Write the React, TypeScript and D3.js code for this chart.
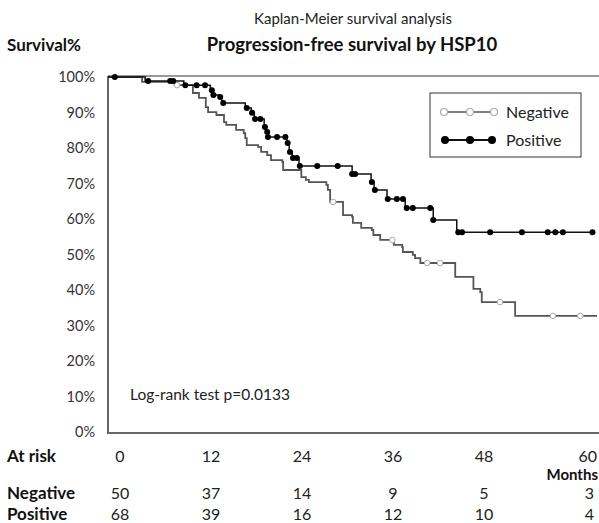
import React from "react";
import * as d3 from "d3";

// y axis ticks (percent)
const yTicks = [0, 10, 20, 30, 40, 50, 60, 70, 80, 90, 100];

// at-risk table
const riskMonths = [0, 12, 24, 36, 48, 60];
const riskNegative = [50, 37, 14, 9, 5, 3];
const riskPositive = [68, 39, 16, 12, 10, 4];

// KM steps: [month, survival % after the event]
const negSteps: [number, number][] = [
  [4.5, 98.6], [8.8, 97.7], [11.2, 95.5], [12.0, 94.1], [12.9, 91.5], [13.2, 90.1],
  [14.3, 89.3], [15.3, 87.3], [15.6, 86.5], [16.9, 85.1], [17.9, 84.2], [18.1, 82.8],
  [18.3, 80.8], [19.8, 80.3], [20.2, 78.9], [21.0, 78.0], [21.5, 76.6], [23.0, 76.1],
  [23.1, 73.8], [25.5, 71.8], [26.1, 71.0], [26.5, 70.4], [28.8, 69.6], [29.0, 68.2],
  [29.3, 64.8], [31.0, 61.1], [32.2, 60.6], [32.3, 58.9], [33.4, 57.5], [34.8, 56.9],
  [35.0, 55.5], [35.9, 54.1], [37.7, 52.7], [38.8, 52.1], [38.9, 50.7], [40.2, 49.9],
  [40.5, 49.0], [41.2, 47.6], [45.8, 43.7], [48.2, 40.3], [49.1, 39.4], [49.3, 36.6],
  [53.7, 32.7],
];
const negCensor = [9.1, 29.7, 37.5, 42.1, 43.8, 51.7, 58.7, 62.3];

const posSteps: [number, number][] = [
  [4.9, 98.9], [10.0, 97.7], [13.5, 96.3], [13.9, 94.9], [14.6, 94.4], [15.0, 92.7],
  [18.1, 91.3], [18.9, 89.9], [19.3, 88.2], [20.6, 85.9], [20.8, 84.5], [21.1, 83.1],
  [23.6, 81.4], [23.9, 78.9], [24.3, 77.2], [25.2, 74.9], [32.2, 72.7], [34.7, 70.4],
  [35.1, 68.2], [36.8, 65.6], [39.2, 63.1], [42.9, 59.7], [46.0, 56.3],
];
const posCensor = [
  0.9, 5.3, 8.2, 8.6, 10.2, 11.7, 12.8, 13.7, 13.9, 14.8, 15.2, 18.3, 19.0, 19.4, 20.1,
  20.7, 21.0, 21.1, 22.3, 23.4, 23.7, 24.0, 24.4, 24.9, 25.3, 27.6, 30.3, 32.2, 32.6,
  34.8, 35.2, 36.9, 38.1, 38.9, 39.4, 40.2, 42.5, 42.9, 46.2, 46.7, 50.4, 54.6, 58.0,
  59.0, 60.0, 63.9,
];
const negEnd = 64.5;
const posEnd = 64.0;

const W = 599;
const H = 523;
const FONT = "Lato, 'Open Sans', sans-serif";

const levelAt = (steps: [number, number][], t: number) => {
  let s = 100;
  for (const [m, v] of steps) if (m <= t) s = v;
  return s;
};

export default function App() {
  const x = d3.scaleLinear().domain([0, 64.5]).range([108, 597]);
  const y = d3.scaleLinear().domain([0, 100]).range([432, 77]);
  const riskX = d3.scaleLinear().domain([0, 48]).range([120, 484]);

  const line = d3
    .line<[number, number]>()
    .x((d) => x(d[0]))
    .y((d) => y(d[1]))
    .curve(d3.curveStepAfter);

  const negPts: [number, number][] = [[0, 100], ...negSteps, [negEnd, negSteps[negSteps.length - 1][1]]];
  const posPts: [number, number][] = [[0, 100], ...posSteps, [posEnd, posSteps[posSteps.length - 1][1]]];

  const rows = [
    { label: "Negative", vals: riskNegative, y: 499 },
    { label: "Positive", vals: riskPositive, y: 520 },
  ];

  return (
    <div style={{ position: "absolute", left: 0, top: 0 }}>
      <svg width={W} height={H} style={{ display: "block", fontFamily: FONT }}>
        <rect width={W} height={H} fill="#fff" />
        <text x={353} y={24} textAnchor="middle" fontSize={15} fill="#222">
          Kaplan-Meier survival analysis
        </text>
        <text x={352} y={51} textAnchor="middle" fontSize={18.5} fontWeight="bold" fill="#111">
          Progression-free survival by HSP10
        </text>
        <text x={7} y={51} fontSize={17} fontWeight="bold" fill="#111">
          Survival%
        </text>

        {/* y tick labels */}
        {yTicks.map((t) => (
          <text key={t} x={95} y={y(t) + 5} textAnchor="end" fontSize={14.5} fill="#333">
            {t}%
          </text>
        ))}

        {/* frame */}
        <line x1={108} x2={599} y1={76} y2={76} stroke="#777" strokeWidth={1.5} />
        <line x1={108} x2={108} y1={76} y2={433} stroke="#666" strokeWidth={2} />
        <line x1={107} x2={599} y1={433} y2={433} stroke="#666" strokeWidth={2} />

        {/* curves */}
        <path d={line(negPts) ?? ""} fill="none" stroke="#555" strokeWidth={1.8} />
        {negCensor.map((t, i) => (
          <circle key={"n" + i} cx={x(t)} cy={y(levelAt(negSteps, t))} r={2.8} fill="#fff" stroke="#aaa" strokeWidth={1} />
        ))}
        <path d={line(posPts) ?? ""} fill="none" stroke="#111" strokeWidth={1.5} />
        {posCensor.map((t, i) => (
          <circle key={"p" + i} cx={x(t)} cy={y(levelAt(posSteps, t))} r={3} fill="#000" />
        ))}

        {/* legend */}
        <rect x={430} y={93} width={151} height={64} fill="#fff" stroke="#333" strokeWidth={1} />
        <line x1={444} x2={495} y1={112} y2={112} stroke="#555" strokeWidth={1.5} />
        {[444, 470, 494].map((cx) => (
          <circle key={"ln" + cx} cx={cx} cy={112} r={3.5} fill="#fff" stroke="#aaa" strokeWidth={1.2} />
        ))}
        <text x={506} y={118} fontSize={16} fill="#222">Negative</text>
        <line x1={444} x2={495} y1={140} y2={140} stroke="#111" strokeWidth={1.8} />
        {[445, 470, 492].map((cx) => (
          <circle key={"lp" + cx} cx={cx} cy={140} r={4} fill="#000" />
        ))}
        <text x={506} y={146} fontSize={16} fill="#222">Positive</text>

        <text x={130} y={400} fontSize={15.5} fill="#222">Log-rank test p=0.0133</text>

        {/* at risk table */}
        <text x={7} y={462} fontSize={17} fontWeight="bold" fill="#111">At risk</text>
        {riskMonths.map((m, i) =>
          i === riskMonths.length - 1 ? (
            <text key={m} x={597} y={462} textAnchor="end" fontSize={16} fill="#222">{m}</text>
          ) : (
            <text key={m} x={riskX(m)} y={462} textAnchor="middle" fontSize={16} fill="#222">{m}</text>
          )
        )}
        <text x={598} y={480} textAnchor="end" fontSize={15} fontWeight="bold" fill="#111">Months</text>
        {rows.map((r) => (
          <g key={r.label}>
            <text x={7} y={r.y} fontSize={17} fontWeight="bold" fill="#111">{r.label}</text>
            {r.vals.map((v, i) =>
              i === r.vals.length - 1 ? (
                <text key={i} x={594} y={r.y} textAnchor="end" fontSize={16} fill="#222">{v}</text>
              ) : (
                <text key={i} x={riskX(riskMonths[i])} y={r.y} textAnchor="middle" fontSize={16} fill="#222">{v}</text>
              )
            )}
          </g>
        ))}
      </svg>
    </div>
  );
}
